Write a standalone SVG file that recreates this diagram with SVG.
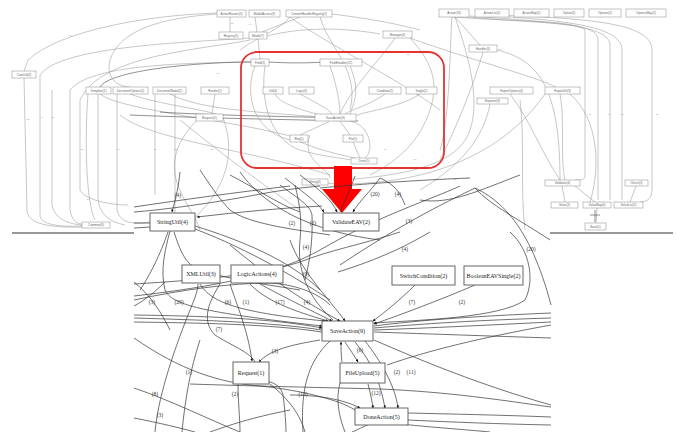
<svg xmlns="http://www.w3.org/2000/svg" width="678" height="432" viewBox="0 0 678 432">
<defs>
<style>
.ob{fill:#fff;stroke:#888;stroke-width:0.5}
.ot{font-family:"Liberation Sans",sans-serif;font-size:3px;fill:#666;text-anchor:middle}
.ol{fill:none;stroke:#999;stroke-width:0.55}
.old{fill:none;stroke:#555;stroke-width:0.65}
.oll{font-family:"Liberation Sans",sans-serif;font-size:2.5px;fill:#888;text-anchor:middle}
.b{fill:#fff;stroke:#555;stroke-width:0.9}
.bt{font-family:"Liberation Serif",serif;font-size:6px;fill:#222;text-anchor:middle}
.e{fill:none;stroke:#333;stroke-width:0.7}
.ea{fill:none;stroke:#333;stroke-width:0.7;marker-end:url(#a)}
.el{font-family:"Liberation Serif",serif;font-size:5.5px;fill:#333;text-anchor:middle}
</style>
<marker id="a" viewBox="0 0 6 6" refX="5.5" refY="3" markerWidth="4" markerHeight="4" orient="auto"><path d="M0,0L6,3L0,6z" fill="#111"/></marker>
</defs>
<rect width="678" height="432" fill="#fff"/>

<g id="overview-connectors">
<path class="ol" d="M217,13 C150,15 60,30 28,60 L24,71"/>
<path class="ol" d="M249,38 C200,42 60,45 40,75 L40,215 C40,225 60,227 82,226"/>
<path class="ol" d="M251,62 C180,63 90,65 70,90 L70,210 C72,222 78,224 82,224"/>
<path class="ol" d="M24,78 L27,210 C27,224 50,228 82,227"/>
<path class="ol" d="M52,90 L52,205 C55,220 70,224 82,225"/>
<path class="ol" d="M98,94 L98,200 C100,215 110,222 125,225"/>
<path class="ol" d="M117,94 L117,210 C120,222 130,225 150,222"/>
<path class="ol" d="M155,94 L155,195"/>
<path class="ol" d="M175,94 L175,215"/>
<path class="ol" d="M88,94 C85,130 85,200 95,220"/>
<path class="ol" d="M250,40 C200,50 100,55 80,100 L80,190 C85,200 110,205 128,205"/>
<path class="ol" d="M230,17 L230,32"/>
<path class="ol" d="M255,17 L257,32"/>
<path class="ol" d="M300,17 L262,32"/>
<path class="ol" d="M290,17 C320,40 400,80 440,110"/>
<path class="ol" d="M320,17 C330,50 360,70 350,110"/>
<path class="ol" d="M258,39 L260,59"/>
<path class="ol" d="M267,36 C290,30 330,25 380,34"/>
<path class="old" d="M251,62 C200,62 110,70 100,87"/>
<path class="old" d="M269,62 C300,64 320,62 330,62"/>
<path class="ol" d="M100,94 C120,110 230,120 290,136"/>
<path class="ol" d="M130,94 C160,105 200,108 222,116"/>
<path class="ol" d="M170,94 C200,110 260,112 320,117"/>
<path class="ol" d="M215,94 L212,114"/>
<path class="ol" d="M275,94 C280,105 310,112 320,115"/>
<path class="ol" d="M300,94 C320,105 330,110 332,114"/>
<path class="ol" d="M385,94 C370,105 350,110 345,114"/>
<path class="ol" d="M420,94 C400,108 360,112 356,116"/>
<path class="old" d="M160,112 C200,115 300,117 355,118"/>
<path class="old" d="M130,115 C200,118 300,120 358,121"/>
<path class="ol" d="M330,121 L300,135"/>
<path class="ol" d="M340,121 L350,135"/>
<path class="ol" d="M350,121 C370,125 375,150 365,158"/>
<path class="ol" d="M300,142 C320,150 340,155 355,158"/>
<path class="ol" d="M353,142 L360,158"/>
<path class="ol" d="M265,66 C260,100 270,140 300,150 C320,156 340,158 352,160"/>
<path class="ol" d="M255,66 C245,90 250,130 290,140"/>
<path class="ol" d="M330,66 C335,80 340,100 340,114"/>
<path class="ol" d="M350,66 C360,90 355,100 350,114"/>
<path class="ol" d="M395,38 C380,60 350,90 340,114"/>
<path class="ol" d="M410,38 C430,60 440,80 430,110 C420,140 400,160 370,175"/>
<path class="ol" d="M452,17 C450,40 450,120 440,150"/>
<path class="ol" d="M455,17 L480,45"/>
<path class="ol" d="M455,17 C470,60 480,100 470,130 C460,160 420,175 340,180"/>
<path class="ol" d="M410,38 C470,60 550,80 560,90"/>
<path class="ol" d="M483,52 C475,80 460,120 440,160"/>
<path class="ol" d="M497,50 C540,60 560,90 560,180"/>
<path class="ol" d="M490,104 C485,130 470,160 420,190"/>
<path class="ol" d="M510,94 C530,120 540,150 560,180"/>
<path class="ol" d="M560,94 C565,120 560,160 565,180"/>
<path class="ol" d="M570,94 C600,120 600,170 590,202"/>
<path class="ol" d="M545,94 C520,130 480,160 420,175 C380,185 340,185 310,182"/>
<path class="ol" d="M453,17 C520,22 575,20 585,30 L585,175 C585,180 582,180 575,180"/>
<path class="ol" d="M460,16 C540,25 598,20 598,40 L598,200"/>
<path class="ol" d="M470,16 C550,22 610,25 610,45 L610,200"/>
<path class="ol" d="M480,15 C560,20 622,25 622,50 L622,200"/>
<path class="ol" d="M490,15 C600,18 652,25 652,50 L652,190 C652,200 645,202 640,202"/>
<path class="ol" d="M636,186 L630,202"/>
<path class="ol" d="M562,186 L565,202"/>
<path class="ol" d="M575,186 L595,202"/>
<path class="ol" d="M597,208 L596,223"/>
<path class="old" d="M590,215 L600,215 M595,210 L595,222"/>
<path class="ol" d="M520,100 C525,140 520,190 525,230"/>
<path class="ol" d="M310,135 C300,160 330,170 330,178"/>
<path class="ol" d="M120,115 C150,140 250,150 330,175"/>
<path class="ol" d="M180,120 C230,160 270,190 300,210"/>
<path class="ol" d="M196,121 C150,170 190,200 200,230"/>
<path class="ol" d="M290,17 C280,30 260,35 240,50"/>
<path class="ol" d="M332,14 C380,20 400,25 420,30"/>
<path class="ol" d="M217,14 C160,18 120,30 110,60 C105,80 120,87 130,87"/>
<path class="ol" d="M222,115 C240,160 220,200 180,230"/>
<text class="oll" x="70" y="36">(3)</text>
<text class="oll" x="28" y="120">(2)</text>
<text class="oll" x="42" y="118">(4)</text>
<text class="oll" x="53" y="118">(1)</text>
<text class="oll" x="82" y="150">(2)</text>
<text class="oll" x="118" y="150">(3)</text>
<text class="oll" x="155" y="150">(1)</text>
<text class="oll" x="176" y="150">(2)</text>
<text class="oll" x="212" y="150">(5)</text>
<text class="oll" x="218" y="74">(7)</text>
<text class="oll" x="232" y="24">(2)</text>
<text class="oll" x="250" y="25">(4)</text>
<text class="oll" x="408" y="55">(2)</text>
<text class="oll" x="500" y="50">(3)</text>
<text class="oll" x="590" y="115">(9)</text>
<text class="oll" x="609" y="115">(4)</text>
<text class="oll" x="622" y="115">(2)</text>
<text class="oll" x="657" y="115">(3)</text>
<text class="oll" x="385" y="150">(6)</text>
<text class="oll" x="415" y="160">(1)</text>
<text class="oll" x="455" y="180">(3)</text>
<text class="oll" x="345" y="140">(2)</text>
<text class="oll" x="88" y="200">(1)</text>
</g>

<g id="overview-nodes">
<g id="o1"><rect class="ob" x="217" y="10" width="29" height="7"/><text class="ot" x="231.5" y="14.6">ActionRunner(2)</text></g>
<g id="o2"><rect class="ob" x="249" y="10" width="31" height="7"/><text class="ot" x="264.5" y="14.6">ModelAccess(3)</text></g>
<g id="o3"><rect class="ob" x="286" y="10" width="46" height="7"/><text class="ot" x="309" y="14.6">ContentHandlerRegistry(2)</text></g>
<g id="o4"><rect class="ob" x="219" y="32" width="24" height="7"/><text class="ot" x="231" y="36.6">Registry(1)</text></g>
<g id="o5"><rect class="ob" x="249" y="32" width="18" height="7"/><text class="ot" x="258" y="36.6">Model(7)</text></g>
<g id="o6"><rect class="ob" x="12" y="71" width="24" height="7"/><text class="ot" x="24" y="75.6">CoreUtil(3)</text></g>
<g id="o7"><rect class="ob" x="251" y="59" width="18" height="7"/><text class="ot" x="260" y="63.6">Field(5)</text></g>
<g id="o8"><rect class="ob" x="320" y="59" width="42" height="7"/><text class="ot" x="341" y="63.6">FieldHandler(12)</text></g>
<g id="o9"><rect class="ob" x="86" y="87" width="25" height="7"/><text class="ot" x="98.5" y="91.6">Template(2)</text></g>
<g id="o10"><rect class="ob" x="113" y="87" width="35" height="7"/><text class="ot" x="130.5" y="91.6">DocumentOptions(2)</text></g>
<g id="o11"><rect class="ob" x="153" y="87" width="33" height="7"/><text class="ot" x="169.5" y="91.6">DocumentModel(2)</text></g>
<g id="o12"><rect class="ob" x="201" y="87" width="28" height="7"/><text class="ot" x="215" y="91.6">Render(1)</text></g>
<g id="o13"><rect class="ob" x="263" y="87" width="20" height="7"/><text class="ot" x="273" y="91.6">Util(4)</text></g>
<g id="o14"><rect class="ob" x="289" y="87" width="25" height="7"/><text class="ot" x="301.5" y="91.6">Logic(3)</text></g>
<g id="o15"><rect class="ob" x="369" y="87" width="32" height="7"/><text class="ot" x="385" y="91.6">Condition(2)</text></g>
<g id="o16"><rect class="ob" x="406" y="87" width="31" height="7"/><text class="ot" x="421.5" y="91.6">Single(2)</text></g>
<g id="o17"><rect class="ob" x="490" y="87" width="43" height="7"/><text class="ot" x="511.5" y="91.6">ExportOptions(4)</text></g>
<g id="o18"><rect class="ob" x="545" y="87" width="35" height="7"/><text class="ot" x="562.5" y="91.6">ExportUtil(3)</text></g>
<g id="o19"><rect class="ob" x="383" y="31" width="29" height="7"/><text class="ot" x="397.5" y="35.6">Manager(4)</text></g>
<g id="o20"><rect class="ob" x="469" y="45" width="28" height="7"/><text class="ot" x="483" y="49.6">Handler(5)</text></g>
<g id="o21"><rect class="ob" x="477" y="98" width="31" height="6"/><text class="ot" x="492.5" y="102.2">Exporter(3)</text></g>
<g id="o22"><rect class="ob" x="196" y="114" width="27" height="7"/><text class="ot" x="209.5" y="118.6">Request(1)</text></g>
<g id="o23"><rect class="ob" x="315" y="114" width="41" height="7"/><text class="ot" x="335.5" y="118.6">SaveAction(9)</text></g>
<g id="o24"><rect class="ob" x="290" y="135" width="18" height="7"/><text class="ot" x="299" y="139.6">Req(1)</text></g>
<g id="o25"><rect class="ob" x="343" y="135" width="20" height="7"/><text class="ot" x="353" y="139.6">File(5)</text></g>
<g id="o26"><rect class="ob" x="351" y="158" width="26" height="6"/><text class="ot" x="364" y="162.2">Done(5)</text></g>
<g id="o27"><rect class="ob" x="302" y="179" width="26" height="6"/><text class="ot" x="315" y="183.2">String(4)</text></g>
<g id="o28"><rect class="ob" x="439" y="9" width="30" height="8"/><text class="ot" x="454" y="14">Action(18)</text></g>
<g id="o29"><rect class="ob" x="475" y="9" width="34" height="8"/><text class="ot" x="492" y="14">ActionList(2)</text></g>
<g id="o30"><rect class="ob" x="514" y="9" width="35" height="8"/><text class="ot" x="531.5" y="14">ActionMap(2)</text></g>
<g id="o31"><rect class="ob" x="554" y="9" width="30" height="8"/><text class="ot" x="569" y="14">Option(3)</text></g>
<g id="o32"><rect class="ob" x="589" y="9" width="32" height="8"/><text class="ot" x="605" y="14">Options(2)</text></g>
<g id="o33"><rect class="ob" x="626" y="9" width="40" height="8"/><text class="ot" x="646" y="14">OptionsMap(2)</text></g>
<g id="o34"><rect class="ob" x="545" y="180" width="35" height="6"/><text class="ot" x="562.5" y="184.2">Validator(4)</text></g>
<g id="o35"><rect class="ob" x="625" y="180" width="23" height="6"/><text class="ot" x="636.5" y="184.2">Check(1)</text></g>
<g id="o36"><rect class="ob" x="551" y="202" width="27" height="6"/><text class="ot" x="564.5" y="206.2">Value(2)</text></g>
<g id="o37"><rect class="ob" x="583" y="202" width="28" height="6"/><text class="ot" x="597" y="206.2">ValueMap(4)</text></g>
<g id="o38"><rect class="ob" x="614" y="202" width="29" height="6"/><text class="ot" x="628.5" y="206.2">ValueList(2)</text></g>
<g id="o39"><rect class="ob" x="585" y="223" width="21" height="7"/><text class="ot" x="595.5" y="227.6">Base(1)</text></g>
<g id="o40"><rect class="ob" x="82" y="222" width="28" height="6"/><text class="ot" x="96" y="226.2">Common(8)</text></g>
</g>

<g id="frame">
<path d="M12,233 L134,233 M550,233 L673,233" stroke="#333" stroke-width="1" fill="none"/>
<rect x="241" y="52" width="203" height="116" rx="16" fill="none" stroke="#e53333" stroke-width="1.8"/>
<path d="M334,166 L352,166 L352,189 L362,189 L342,213 L322,189 L334,189 Z" fill="#ff0000"/>
</g>

<g id="connectors">
<path class="ea" d="M180,172 C178,192 174,204 172,212"/>
<path class="e" d="M134,207 C180,200 240,192 290,186"/>
<path class="e" d="M134,212 C160,210 200,205 250,196 C280,190 300,188 320,186"/>
<path class="ea" d="M285,178 C300,190 315,200 324,212"/>
<path class="ea" d="M300,175 C320,190 332,200 337,212"/>
<path class="ea" d="M380,178 C370,192 360,200 353,212"/>
<path class="e" d="M355,176 C350,190 345,200 340,212"/>
<path class="ea" d="M322,206 C280,208 240,212 197,217"/>
<path class="e" d="M134,223 L150,223"/>
<path class="e" d="M134,228 L150,227"/>
<path class="e" d="M195,226 C240,240 290,260 320,290"/>
<path class="e" d="M195,229 C250,250 300,280 330,300"/>
<path class="e" d="M230,175 C250,185 280,205 300,212"/>
<path class="e" d="M380,178 C395,185 400,192 405,205"/>
<path class="e" d="M280,185 C300,200 310,205 312,215 C313,240 310,260 305,280"/>
<path class="e" d="M295,185 C300,205 302,220 300,240 C298,260 300,290 333,320"/>
<path class="ea" d="M170,231 C165,250 160,270 165,290 C172,305 200,312 322,326"/>
<path class="e" d="M168,232 C160,255 150,275 140,290"/>
<path class="e" d="M174,232 C180,250 185,265 200,270 C230,280 270,285 300,290"/>
<path class="e" d="M134,284 C200,280 260,275 300,262 C330,250 360,245 400,232"/>
<path class="e" d="M134,300 C180,290 230,283 270,283 C300,285 320,295 330,305"/>
<path class="e" d="M430,232 C400,250 370,262 338,272"/>
<path class="e" d="M475,188 C440,205 400,225 340,265"/>
<path class="e" d="M475,188 C490,205 520,220 550,240"/>
<path class="e" d="M460,186 C430,200 380,215 320,250 C280,272 230,285 134,296"/>
<path class="e" d="M475,188 C500,200 530,225 551,305"/>
<path class="ea" d="M510,232 C530,250 535,280 525,300 C500,318 420,320 374,323"/>
<path class="ea" d="M415,285 C400,300 385,312 373,321"/>
<path class="ea" d="M475,285 C440,300 400,315 374,324"/>
<path class="e" d="M374,326 C420,320 480,316 551,313"/>
<path class="e" d="M374,328 C420,324 480,320 551,318"/>
<path class="e" d="M374,330 C430,328 490,325 551,322"/>
<path class="e" d="M374,332 C430,334 490,336 551,338"/>
<path class="ea" d="M134,315 C200,316 270,318 322,328"/>
<path class="e" d="M134,318 C200,320 270,322 322,330"/>
<path class="e" d="M134,322 C200,323 270,324 322,332"/>
<path class="e" d="M134,282 C150,295 160,310 170,330"/>
<path class="e" d="M134,306 C145,300 155,292 165,282"/>
<path class="ea" d="M200,284 C210,300 230,312 325,321"/>
<path class="ea" d="M260,284 C280,295 300,305 332,321"/>
<path class="ea" d="M250,284 C265,300 290,310 328,321"/>
<path class="ea" d="M230,245 C260,270 300,300 340,321"/>
<path class="ea" d="M290,240 C300,270 330,300 345,321"/>
<path class="ea" d="M320,340 C290,345 270,350 259,362"/>
<path class="ea" d="M230,284 C235,300 248,330 252,361"/>
<path class="e" d="M220,284 C210,300 200,320 215,335 C230,345 250,352 255,362"/>
<path class="ea" d="M345,342 C350,350 354,355 358,362"/>
<path class="ea" d="M342,362 C341,355 341,348 341,342"/>
<path class="ea" d="M355,342 C370,360 380,380 385,408"/>
<path class="ea" d="M365,341 C380,360 395,385 398,408"/>
<path class="ea" d="M368,384 C370,392 372,400 373,408"/>
<path class="ea" d="M290,395 C320,395 345,400 360,408"/>
<path class="e" d="M374,340 C420,360 480,385 551,405"/>
<path class="e" d="M387,365 C430,350 480,338 551,325"/>
<path class="e" d="M190,384 C250,386 300,387 380,389 C450,392 500,400 551,407"/>
<path class="e" d="M408,413 C450,414 500,415 551,417"/>
<path class="e" d="M408,420 C450,422 500,424 551,425"/>
<path class="e" d="M134,338 C180,370 220,383 260,386 C300,390 340,400 355,410"/>
<path class="e" d="M134,388 C170,400 210,420 240,432"/>
<path class="e" d="M134,418 C160,423 180,428 195,432"/>
<path class="e" d="M155,432 C158,400 170,360 190,310 C195,298 198,290 198,284"/>
<path class="e" d="M182,432 C185,400 190,370 200,340"/>
<path class="e" d="M238,384 C238,400 240,420 240,432"/>
<path class="e" d="M245,384 C260,378 280,380 283,395 C285,410 286,425 286,432"/>
<path class="e" d="M270,384 C290,400 300,415 305,432"/>
<path class="e" d="M330,341 C310,360 300,385 303,432"/>
<path class="e" d="M340,383 C335,400 340,420 345,432"/>
<path class="e" d="M370,424 C360,428 355,431 352,432"/>
<path class="e" d="M400,424 C440,428 470,430 490,432"/>
<path class="e" d="M210,432 C230,425 250,418 290,410"/>
<path class="e" d="M200,170 C210,185 220,200 230,210 C250,225 300,230 330,235"/>
<path class="e" d="M240,172 C260,200 300,230 380,240"/>
<path class="e" d="M420,200 C450,205 480,190 520,175"/>
<path class="e" d="M320,188 C360,184 420,180 470,178"/>
<text class="el" x="178" y="197">(4)</text>
<text class="el" x="375" y="196">(20)</text>
<text class="el" x="398" y="196">(4)</text>
<text class="el" x="409" y="223">(3)</text>
<text class="el" x="292" y="225">(2)</text>
<text class="el" x="313" y="225">(2)</text>
<text class="el" x="306" y="249">(4)</text>
<text class="el" x="306" y="276">(9)</text>
<text class="el" x="152" y="304">(3)</text>
<text class="el" x="179" y="304">(29)</text>
<text class="el" x="228" y="304">(6)</text>
<text class="el" x="246" y="304">(1)</text>
<text class="el" x="280" y="304">(17)</text>
<text class="el" x="307" y="304">(4)</text>
<text class="el" x="405" y="251">(4)</text>
<text class="el" x="531" y="251">(20)</text>
<text class="el" x="412" y="304">(7)</text>
<text class="el" x="462" y="304">(2)</text>
<text class="el" x="219" y="331">(7)</text>
<text class="el" x="275" y="353">(3)</text>
<text class="el" x="189" y="374">(1)</text>
<text class="el" x="235" y="396">(2)</text>
<text class="el" x="303" y="396">(13)</text>
<text class="el" x="155" y="396">(8)</text>
<text class="el" x="160" y="417">(3)</text>
<text class="el" x="360" y="352">(6)</text>
<text class="el" x="397" y="374">(2)</text>
<text class="el" x="411" y="374">(11)</text>
<text class="el" x="376" y="395">(12)</text>
</g>

<g id="nodes">
<g id="n-stringutil"><rect class="b" x="150" y="213" width="45" height="18"/><text class="bt" x="172.5" y="224">StringUtil(4)</text></g>
<g id="n-validate"><rect class="b" x="323" y="213" width="56" height="18"/><text class="bt" x="351" y="224">ValidateEAV(2)</text></g>
<g id="n-xmlutil"><rect class="b" x="182" y="265" width="38" height="18"/><text class="bt" x="201" y="276">XMLUtil(3)</text></g>
<g id="n-logic"><rect class="b" x="231" y="265" width="52" height="18"/><text class="bt" x="257" y="276">LogicActions(4)</text></g>
<g id="n-switch"><rect class="b" x="392" y="266" width="63" height="19"/><text class="bt" x="423.5" y="277.5">SwitchCondition(2)</text></g>
<g id="n-boolean"><rect class="b" x="464" y="266" width="59" height="19"/><text class="bt" x="493.5" y="277.5">BooleanEAVSingle(2)</text></g>
<g id="n-save"><rect class="b" x="322" y="321" width="51" height="20"/><text class="bt" x="347.5" y="333">SaveAction(9)</text></g>
<g id="n-request"><rect class="b" x="233" y="362" width="36" height="22"/><text class="bt" x="251" y="375">Request(1)</text></g>
<g id="n-fileupload"><rect class="b" x="340" y="363" width="45" height="20"/><text class="bt" x="362.5" y="375">FileUpload(5)</text></g>
<g id="n-done"><rect class="b" x="355" y="408" width="53" height="17"/><text class="bt" x="381.5" y="418.5">DoneAction(5)</text></g>
</g>
</svg>
